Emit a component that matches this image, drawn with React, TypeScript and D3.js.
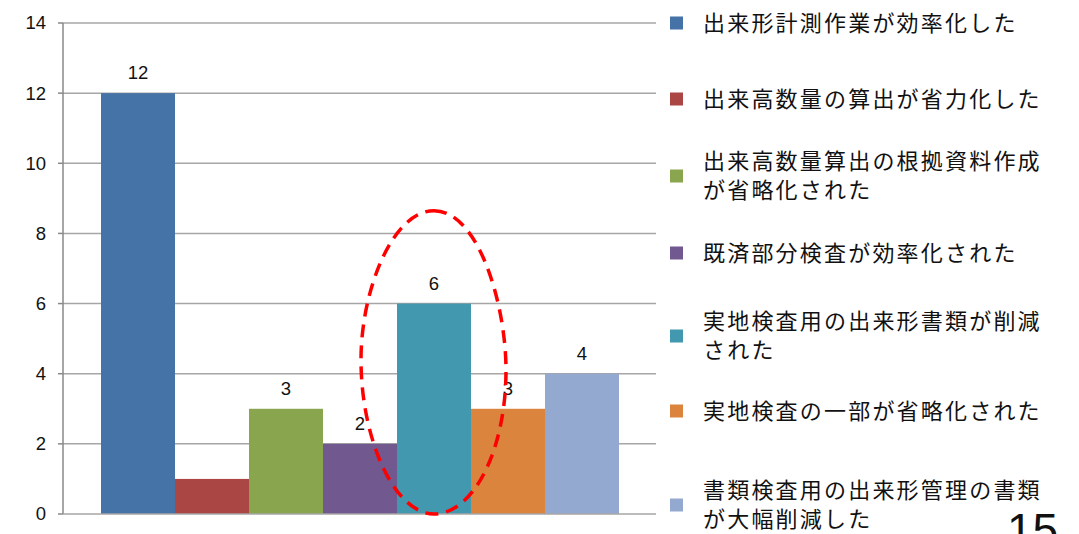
import React from "react";
import * as d3 from "d3";

const seriesNames: string[][] = [
  ["出来形計測作業が効率化した"],
  ["出来高数量の算出が省力化した"],
  ["出来高数量算出の根拠資料作成", "が省略化された"],
  ["既済部分検査が効率化された"],
  ["実地検査用の出来形書類が削減", "された"],
  ["実地検査の一部が省略化された"],
  ["書類検査用の出来形管理の書類", "が大幅削減した"],
];
const values = [12, 1, 3, 2, 6, 3, 4];
const showValueLabel = [true, false, true, true, true, true, true];
const colors = ["#4572A7", "#AA4643", "#89A54E", "#71588F", "#4198AF", "#DB843D", "#93A9CF"];
const yTicks = [0, 2, 4, 6, 8, 10, 12, 14];
const legendCenters = [23, 99, 176, 253, 336, 411, 505];
const pageNumber = "15";

export default function App() {
  const W = 1079, H = 534;
  const plotLeft = 63, plotRight = 656, plotTop = 23, plotBottom = 514;
  const y = d3.scaleLinear().domain([0, 14]).range([plotBottom, plotTop]);
  const x = d3.scaleBand<number>().domain(values.map((_, i) => i)).range([101, 619]).padding(0);
  const numFont = "'Liberation Sans', Arial, sans-serif";
  const jpFont = "'Noto Sans CJK JP', 'Noto Sans', sans-serif";
  // highlight ring around the 5th bar (egg-shaped, narrower at top)
  const cx = (x(4) as number) + x.bandwidth() / 2;
  const egg = d3.path();
  egg.moveTo(cx, y(8.65));
  egg.bezierCurveTo(cx + 44, y(8.65), cx + 72, y(6), cx + 72, y(4.1));
  egg.bezierCurveTo(cx + 72, y(1.8), cx + 39, y(0), cx, y(0));
  egg.bezierCurveTo(cx - 39, y(0), cx - 73, y(2.1), cx - 73, y(4.4));
  egg.bezierCurveTo(cx - 73, y(6.4), cx - 41, y(8.65), cx, y(8.65));
  egg.closePath();
  return (
    <svg width={W} height={H} style={{ position: "absolute", left: 0, top: 0, background: "#fff" }}>
      {yTicks.map((t) => (
        <g key={t}>
          {t > 0 && <line x1={plotLeft} x2={plotRight} y1={y(t)} y2={y(t)} stroke="#a6a6a6" strokeWidth={1.5} />}
          <line x1={plotLeft - 5} x2={plotLeft} y1={y(t)} y2={y(t)} stroke="#888" strokeWidth={1.5} />
          <text x={46} y={y(t)} dy="0.35em" textAnchor="end" fontFamily={numFont} fontSize={18.5} fill="#111">{t}</text>
        </g>
      ))}
      {values.map((v, i) => (
        <g key={i}>
          <rect x={x(i)} y={y(v)} width={x.bandwidth()} height={y(0) - y(v)} fill={colors[i]} />
          {showValueLabel[i] && (
            <text x={(x(i) as number) + x.bandwidth() / 2} y={y(v) - 14} textAnchor="middle" fontFamily={numFont} fontSize={18.5} fill="#111">{v}</text>
          )}
        </g>
      ))}
      <line x1={plotLeft} x2={plotLeft} y1={plotTop} y2={plotBottom} stroke="#888" strokeWidth={1.5} />
      <line x1={plotLeft} x2={plotRight} y1={plotBottom} y2={plotBottom} stroke="#a6a6a6" strokeWidth={1.5} />
      <path d={egg.toString()} fill="none" stroke="#ff0000" strokeWidth={3.5} strokeDasharray="13 8" />
      {seriesNames.map((lines, i) => {
        const cy = legendCenters[i];
        const lh = 29;
        const start = cy - ((lines.length - 1) * lh) / 2;
        return (
          <g key={i}>
            <rect x={670} y={cy - 6.5} width={13} height={13} fill={colors[i]} />
            {lines.map((l, j) => (
              <text key={j} x={703} y={start + j * lh} dy="0.36em" fontFamily={jpFont} fontSize={22} letterSpacing={2.2} fill="#111">{l}</text>
            ))}
          </g>
        );
      })}
      <text x={1007} y={546} fontFamily={numFont} fontSize={46} fill="#111">{pageNumber}</text>
    </svg>
  );
}
